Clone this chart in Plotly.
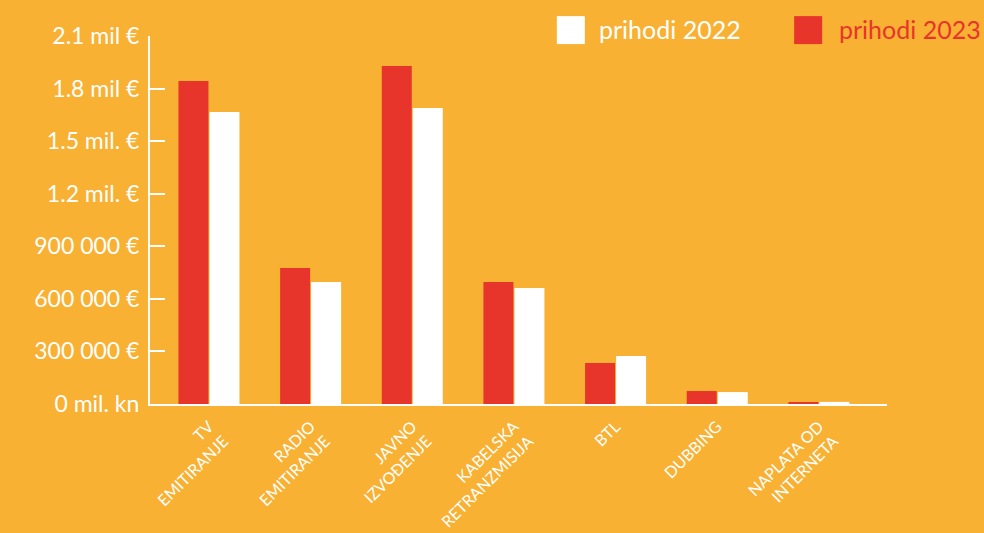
import plotly.graph_objects as go

categories = ["TV<br>EMITIRANJE", "RADIO<br>EMITIRANJE", "JAVNO<br>IZVOĐENJE",
              "KABELSKA<br>RETRANZMISIJA", "BTL", "DUBBING", "NAPLATA OD<br>INTERNETA"]
prihodi_2023 = [1843000, 776000, 1929000, 696000, 234000, 74000, 10000]
prihodi_2022 = [1667000, 696000, 1689000, 662000, 274000, 68000, 12000]
tick_vals = [0, 300000, 600000, 900000, 1200000, 1500000, 1800000, 2100000]
tick_text = ["0 mil. kn", "300 000 €", "600 000 €", "900 000 €",
             "1.2 mil. €", "1.5 mil. €", "1.8 mil €", "2.1 mil €"]

BG = "#F8B133"
RED = "#E8352B"
WHITE = "#FFFFFF"
FONT = "Lato"

fig = go.Figure()
fig.add_trace(go.Bar(x=categories, y=prihodi_2023, name="prihodi 2023",
                     marker=dict(color=RED, line=dict(width=0)), showlegend=False))
fig.add_trace(go.Bar(x=categories, y=prihodi_2022, name="prihodi 2022",
                     marker=dict(color=WHITE, line=dict(width=0)), showlegend=False))

fig.update_layout(
    width=984, height=533,
    paper_bgcolor=BG, plot_bgcolor=BG,
    margin=dict(l=150, r=97, t=36, b=129, autoexpand=False),
    barmode="group", bargap=0.39, bargroupgap=0.032,
    font=dict(family=FONT, color=WHITE),
    xaxis=dict(type="category", range=[-0.58, 6.67], showline=True, linecolor=WHITE,
               linewidth=2, ticks="", tickangle=-45, showgrid=False,
               ticklabelstandoff=5, automargin=False,
               tickfont=dict(size=16, color=WHITE, family=FONT)),
    yaxis=dict(range=[0, 2100000], tickvals=tick_vals, ticktext=tick_text,
               showline=True, linecolor=WHITE, linewidth=2, ticks="inside",
               ticklen=15, tickwidth=2, tickcolor=WHITE, showgrid=False,
               zeroline=False, ticklabelstandoff=4, automargin=False,
               tickfont=dict(size=23, color=WHITE, family=FONT)),
)

# legend drawn manually (large squares)
legend_items = [("prihodi 2022", WHITE, 0.552, 0.590, 0.6065),
                ("prihodi 2023", RED, 0.874, 0.912, 0.932)]
for label, col, x0, x1, xt in legend_items:
    fig.add_shape(type="rect", xref="paper", yref="paper", x0=x0, x1=x1,
                  y0=0.978, y1=1.054, fillcolor=col, line=dict(width=0))
    fig.add_annotation(text=label, xref="paper", yref="paper", x=xt, y=1.018,
                       xanchor="left", yanchor="middle", showarrow=False,
                       font=dict(size=25, color=col, family=FONT))

fig.write_html("out.html", config={"displayModeBar": False},
               post_script="document.body.style.margin='0';"
                           "document.body.style.background='" + BG + "';")
